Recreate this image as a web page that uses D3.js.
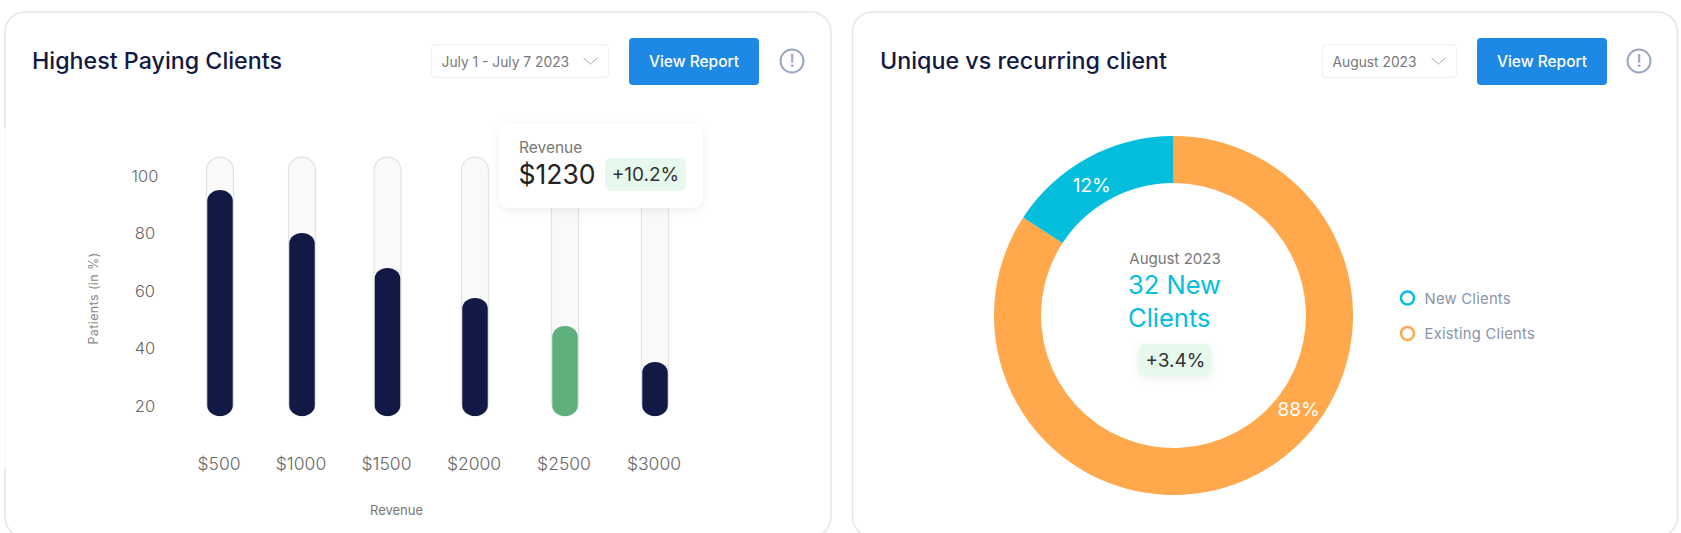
<!DOCTYPE html>
<html>
<head>
<meta charset="utf-8">
<script src="https://cdn.jsdelivr.net/npm/d3@7"></script>
<style>
  html, body { margin: 0; padding: 0; background: #fff; overflow: hidden; }
  text { font-family: "Inter", sans-serif; }
  .axis text { font-family: "Inter", sans-serif; font-weight: 300; fill: #666; font-size: 16.5px; }
  .axis.bottom text { font-size: 17.5px; }
</style>
</head>
<body>
<svg id="chart" width="1681" height="533"></svg>
<script>
// bar chart values
const revenueLabels = ['$500', '$1000', '$1500', '$2000', '$2500', '$3000'];
const patientShare = [95.1, 80.2, 68, 57.6, 47.8, 35.3];
const yTicks = [20, 40, 60, 80, 100];
const trackBottom = 16.5;
const trackTop = 106.6;
const highlighted = '$2500';

// donut values (the drawn arc is wider than its printed label in the original)
const clientNames = ['Existing Clients', 'New Clients'];
const clientArc = [84.2, 15.8];
const clientLabels = ['88%', '12%'];
const legendNames = ['New Clients', 'Existing Clients'];

const navy = '#131945';
const green = '#5DB07C';
const cyan = '#04BEDC';
const orange = '#FFA84C';

const svg = d3.select('#chart');

const defs = svg.append('defs');
const shadow = defs.append('filter').attr('id', 'soft')
  .attr('x', '-20%').attr('y', '-20%').attr('width', '140%').attr('height', '150%');
shadow.append('feDropShadow')
  .attr('dx', 0).attr('dy', 2).attr('stdDeviation', 5)
  .attr('flood-color', '#000').attr('flood-opacity', 0.07);

function card(x, w) {
  svg.append('rect')
    .attr('x', x).attr('y', 12).attr('width', w).attr('height', 525)
    .attr('rx', 20)
    .attr('fill', '#fff').attr('stroke', '#E6E6E6').attr('stroke-width', 1.5);
}

function header(opts) {
  svg.append('text')
    .attr('x', opts.titleX).attr('y', 68.5)
    .attr('font-size', 22.5).attr('font-weight', 500).attr('fill', '#131945')
    .attr('textLength', opts.titleW).attr('lengthAdjust', 'spacingAndGlyphs')
    .text(opts.title);

  svg.append('rect')
    .attr('x', opts.dropX).attr('y', 44.5).attr('width', opts.dropW).attr('height', 33)
    .attr('rx', 4).attr('fill', '#fff').attr('stroke', '#EFEFEF');
  svg.append('text')
    .attr('x', opts.dropX + 10).attr('y', 66.5)
    .attr('font-size', 13.8).attr('fill', '#777')
    .text(opts.range);
  const cx = opts.dropX + opts.dropW - 18;
  svg.append('path')
    .attr('d', `M${cx - 7},58 L${cx},64 L${cx + 7},58`)
    .attr('fill', 'none').attr('stroke', '#AAA').attr('stroke-width', 1);

  svg.append('rect')
    .attr('x', opts.btnX).attr('y', 38).attr('width', 130).attr('height', 47)
    .attr('rx', 4).attr('fill', '#1E88E5');
  svg.append('text')
    .attr('x', opts.btnX + 65).attr('y', 66.5).attr('text-anchor', 'middle')
    .attr('font-size', 15.5).attr('font-weight', 500).attr('fill', '#fff')
    .text('View Report');

  svg.append('circle')
    .attr('cx', opts.infoX).attr('cy', 61).attr('r', 11.5)
    .attr('fill', 'none').attr('stroke', '#9AA5C0').attr('stroke-width', 2);
  svg.append('text')
    .attr('x', opts.infoX).attr('y', 67).attr('text-anchor', 'middle')
    .attr('font-size', 17).attr('font-weight', 500).attr('fill', '#9AA5C0')
    .text('!');
}

card(5, 826);
card(852.5, 825);

// the left edge of the first card fades out along the chart in the original
svg.append('rect')
  .attr('x', 3).attr('y', 128).attr('width', 4).attr('height', 340)
  .attr('fill', '#fff').attr('opacity', 0.8);

header({ title: 'Highest Paying Clients', titleX: 32, titleW: 250, range: 'July 1 - July 7 2023',
  dropX: 431.5, dropW: 177, btnX: 629, infoX: 792 });
header({ title: 'Unique vs recurring client', titleX: 880, titleW: 287, range: 'August 2023',
  dropX: 1322.5, dropW: 134, btnX: 1477, infoX: 1639 });

// ---- bars ----
const barCentres = [220, 302, 387.5, 475, 565, 655];
const x = d3.scaleOrdinal().domain(revenueLabels).range(barCentres);
const y = d3.scaleLinear().domain([20, 100]).range([406, 176]);
const barW = 25.5;
const trackW = 27;

const yAxis = d3.axisLeft(y).tickValues(yTicks).tickSize(0);
const xAxis = d3.axisBottom(x).tickSize(0);

svg.append('g').attr('class', 'axis')
  .attr('transform', 'translate(145,0)')
  .call(yAxis)
  .call(g => g.select('.domain').remove())
  .selectAll('text').attr('x', 0).attr('text-anchor', 'middle');

svg.append('g').attr('class', 'axis bottom')
  .attr('transform', 'translate(-1.5,455)')
  .call(xAxis)
  .call(g => g.select('.domain').remove());

svg.append('text')
  .attr('transform', 'translate(98,298.5) rotate(-90)')
  .attr('text-anchor', 'middle').attr('font-size', 12.5).attr('letter-spacing', 0.4).attr('fill', '#888')
  .text('Patients (in %)');
svg.append('text')
  .attr('x', 396.5).attr('y', 515).attr('text-anchor', 'middle')
  .attr('font-size', 13).attr('fill', '#777')
  .text('Revenue');

svg.append('g').selectAll('rect')
  .data(revenueLabels)
  .join('rect')
  .attr('x', d => x(d) - trackW / 2)
  .attr('y', y(trackTop))
  .attr('width', trackW)
  .attr('height', y(trackBottom) - y(trackTop))
  .attr('rx', trackW / 2)
  .attr('fill', '#F9F9F9')
  .attr('stroke', '#E2E2E2')
  .attr('stroke-width', 1.2);

svg.append('g').selectAll('rect')
  .data(revenueLabels.map((d, i) => ({ label: d, value: patientShare[i] })))
  .join('rect')
  .attr('x', d => x(d.label) - barW / 2)
  .attr('y', d => y(d.value))
  .attr('width', barW)
  .attr('height', d => y(trackBottom) - y(d.value))
  .attr('rx', barW / 2)
  .attr('ry', 10.5)
  .attr('fill', d => d.label === highlighted ? green : navy);

// tooltip
svg.append('rect')
  .attr('x', 499).attr('y', 124).attr('width', 204).attr('height', 84)
  .attr('rx', 10).attr('fill', '#fff').attr('filter', 'url(#soft)');
svg.append('text').attr('x', 519).attr('y', 153)
  .attr('font-size', 15.5).attr('fill', '#777').text('Revenue');
svg.append('text').attr('x', 518.5).attr('y', 184)
  .attr('font-size', 26.5).attr('fill', '#222').text('$1230');
svg.append('rect')
  .attr('x', 605).attr('y', 158).attr('width', 81).attr('height', 33)
  .attr('rx', 6).attr('fill', '#E6F9EC');
svg.append('text').attr('x', 645.5).attr('y', 181).attr('text-anchor', 'middle')
  .attr('font-size', 19).attr('fill', '#333').text('+10.2%');

// ---- donut ----
const cx = 1173.5, cy = 315.5;
const outer = 179.5, inner = 132.5;
const colour = d3.scaleOrdinal().domain(clientNames).range([orange, cyan]);
const pie = d3.pie().sort(null).value(d => d.value);
const arc = d3.arc().innerRadius(inner).outerRadius(outer);
const slices = pie(clientNames.map((n, i) => ({ name: n, value: clientArc[i], label: clientLabels[i] })));

const donut = svg.append('g').attr('transform', `translate(${cx},${cy})`);
donut.selectAll('path')
  .data(slices)
  .join('path')
  .attr('d', arc)
  .attr('fill', d => colour(d.data.name));

// label spots sit near the inner edge, not at the arc centroid
const labelAngle = { 'New Clients': -0.56, 'Existing Clients': 2.21 };
const labelRadius = { 'New Clients': 154, 'Existing Clients': 156 };
donut.selectAll('text')
  .data(slices)
  .join('text')
  .attr('x', d => Math.sin(labelAngle[d.data.name]) * labelRadius[d.data.name])
  .attr('y', d => -Math.cos(labelAngle[d.data.name]) * labelRadius[d.data.name] + 7)
  .attr('text-anchor', 'middle')
  .attr('font-size', 19).attr('fill', '#fff')
  .text(d => d.data.label);

svg.append('text').attr('x', 1175).attr('y', 263.5).attr('text-anchor', 'middle')
  .attr('font-size', 15).attr('fill', '#777').text('August 2023');
svg.append('text').attr('x', 1128).attr('y', 294)
  .attr('font-size', 25.5).attr('fill', cyan).text('32 New');
svg.append('text').attr('x', 1128).attr('y', 326.5)
  .attr('font-size', 25.5).attr('fill', cyan).text('Clients');
svg.append('rect')
  .attr('x', 1139).attr('y', 344).attr('width', 72).attr('height', 32)
  .attr('rx', 6).attr('fill', '#E6F9EC').attr('filter', 'url(#soft)');
svg.append('text').attr('x', 1175.5).attr('y', 367).attr('text-anchor', 'middle')
  .attr('font-size', 19).attr('fill', '#333').text('+3.4%');

// legend
const legend = svg.append('g').selectAll('g')
  .data(legendNames)
  .join('g')
  .attr('transform', (d, i) => `translate(1407.5,${298 + i * 35.5})`);
legend.append('circle')
  .attr('r', 6.5)
  .attr('fill', '#fff')
  .attr('stroke', d => colour(d))
  .attr('stroke-width', 2.5);
legend.append('text')
  .attr('x', 17).attr('y', 5.5)
  .attr('font-size', 14.8).attr('letter-spacing', 0.25).attr('fill', '#8A93A8')
  .text(d => d);
</script>
</body>
</html>
